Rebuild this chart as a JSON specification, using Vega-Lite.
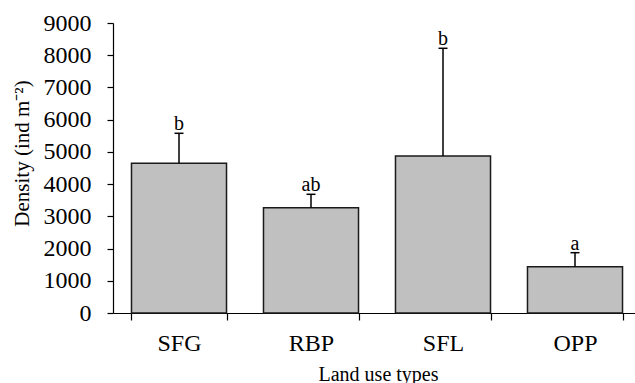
{
  "$schema": "https://vega.github.io/schema/vega-lite/v6.json",
  "width": 522,
  "height": 290,
  "autosize": "none",
  "padding": {"left": 113, "top": 23, "right": 0, "bottom": 70},
  "background": "white",
  "config": {
    "view": {"stroke": null},
    "font": "Liberation Serif",
    "axis": {"domainColor": "black", "tickColor": "black", "labelColor": "black", "titleColor": "black", "domainWidth": 1.2, "tickWidth": 1.2, "grid": false, "titleFontWeight": "normal", "labelFont": "Liberation Serif", "titleFont": "Liberation Serif"}
  },
  "data": {
    "values": [
      {"land": "SFG", "mean": 4646, "upper": 5577, "letter": "b"},
      {"land": "RBP", "mean": 3268, "upper": 3684, "letter": "ab"},
      {"land": "SFL", "mean": 4873, "upper": 8215, "letter": "b"},
      {"land": "OPP", "mean": 1437, "upper": 1872, "letter": "a"}
    ]
  },
  "encoding": {
    "x": {
      "field": "land", "type": "nominal", "sort": null,
      "scale": {"range": [0, 528], "paddingInner": 0.28, "paddingOuter": 0.14},
      "axis": {
        "tickBand": "extent", "tickSize": 7, "labelFontSize": 24, "labelPadding": 30,
        "labelBaseline": "alphabetic", "labelAngle": 0,
        "title": "Land use types", "titleFontSize": 20, "titleX": 265, "titleY": 67,
        "titleBaseline": "alphabetic", "titleAlign": "center"
      }
    }
  },
  "layer": [
    {
      "mark": {"type": "bar", "fill": "#c0c0c0", "stroke": "#1a1a1a", "strokeWidth": 1.5},
      "encoding": {
        "y": {
          "field": "mean", "type": "quantitative",
          "scale": {"domain": [0, 9000], "nice": false},
          "axis": {
            "values": [0, 1000, 2000, 3000, 4000, 5000, 6000, 7000, 8000, 9000], "format": "d",
            "tickSize": 6, "labelPadding": 16, "labelFontSize": 24,
            "title": "Density (ind m⁻²)", "titleFontSize": 21, "titleAngle": -90,
            "titleX": -85, "titleY": 130, "titleAlign": "center", "titleBaseline": "alphabetic"
          }
        }
      }
    },
    {
      "mark": {"type": "rule", "color": "black", "strokeWidth": 1.5},
      "encoding": {
        "y": {"field": "mean", "type": "quantitative",
          "scale": {"domain": [0, 9000], "nice": false},
          "axis": {
            "values": [0, 1000, 2000, 3000, 4000, 5000, 6000, 7000, 8000, 9000], "format": "d",
            "tickSize": 6, "labelPadding": 16, "labelFontSize": 24,
            "title": "Density (ind m⁻²)", "titleFontSize": 21, "titleAngle": -90,
            "titleX": -85, "titleY": 130, "titleAlign": "center", "titleBaseline": "alphabetic"
          }},
        "y2": {"field": "upper"}
      }
    },
    {
      "mark": {"type": "tick", "orient": "horizontal", "size": 9, "thickness": 1.5, "color": "black", "opacity": 1},
      "encoding": {
        "y": {"field": "upper", "type": "quantitative",
          "scale": {"domain": [0, 9000], "nice": false},
          "axis": {
            "values": [0, 1000, 2000, 3000, 4000, 5000, 6000, 7000, 8000, 9000], "format": "d",
            "tickSize": 6, "labelPadding": 16, "labelFontSize": 24,
            "title": "Density (ind m⁻²)", "titleFontSize": 21, "titleAngle": -90,
            "titleX": -85, "titleY": 130, "titleAlign": "center", "titleBaseline": "alphabetic"
          }}
      }
    },
    {
      "mark": {"type": "text", "baseline": "alphabetic", "dy": -3, "fontSize": 20, "color": "black", "font": "Liberation Serif"},
      "encoding": {
        "y": {"field": "upper", "type": "quantitative",
          "scale": {"domain": [0, 9000], "nice": false},
          "axis": {
            "values": [0, 1000, 2000, 3000, 4000, 5000, 6000, 7000, 8000, 9000], "format": "d",
            "tickSize": 6, "labelPadding": 16, "labelFontSize": 24,
            "title": "Density (ind m⁻²)", "titleFontSize": 21, "titleAngle": -90,
            "titleX": -85, "titleY": 130, "titleAlign": "center", "titleBaseline": "alphabetic"
          }},
        "text": {"field": "letter"}
      }
    }
  ]
}
